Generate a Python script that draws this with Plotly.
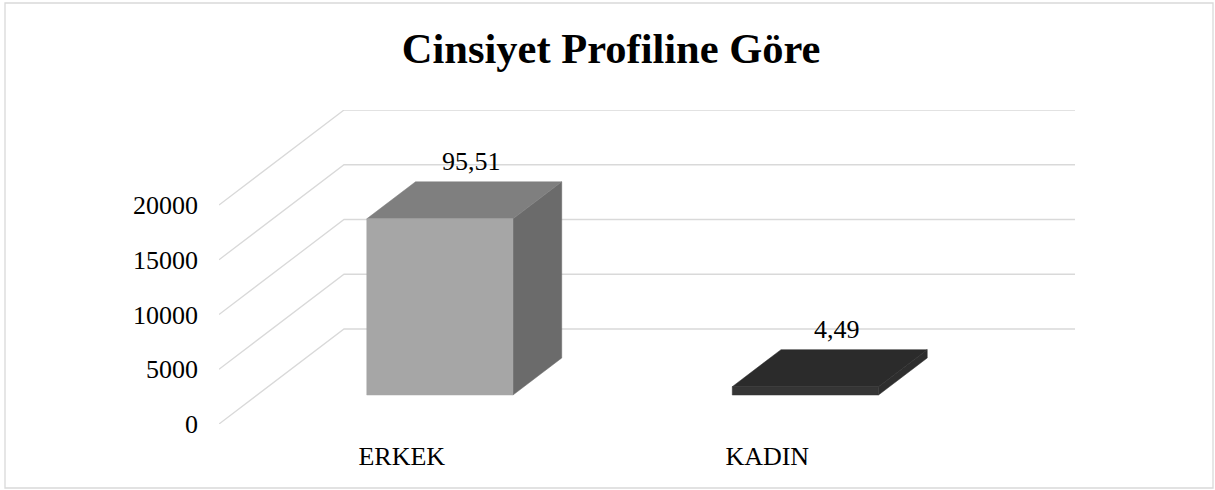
import plotly.graph_objects as go

# ---- data ----
categories = ["ERKEK", "KADIN"]
counts = [16090, 760]
pct_labels = ["95,51", "4,49"]
y_ticks = [0, 5000, 10000, 15000, 20000]
title_text = "Cinsiyet Profiline Göre"

# ---- styling / 3D projection parameters ----
FONT = "Liberation Serif"
front_colors = ["#a6a6a6", "#353535"]
top_colors = ["#7f7f7f", "#2b2b2b"]
side_colors = ["#6b6b6b", "#2e2e2e"]
GRID = "#d9d9d9"

KX = 0.342        # depth shift in category units (full depth)
DY = 8676.0       # depth shift in value units (full depth)
D0, D1 = 0.305, 0.695   # bar depth extent
HW = 0.2          # half bar width (category units)
YMAX = max(y_ticks)
YTOP = YMAX + DY
XL, XR = -0.5, len(categories) - 0.5

fig = go.Figure()

# side-wall diagonal gridlines and back-wall horizontal gridlines
for v in y_ticks:
    fig.add_trace(go.Scatter(
        x=[XL, XL + KX, XR + KX], y=[v, v + DY, v + DY],
        mode="lines", line=dict(color=GRID, width=1.3),
        hoverinfo="skip", showlegend=False))

# 3D bars
for i, (cat, v) in enumerate(zip(categories, counts)):
    c = i
    xa0 = c - HW + D0 * KX
    xb0 = c + HW + D0 * KX
    xa1 = c - HW + D1 * KX
    xb1 = c + HW + D1 * KX
    y0 = D0 * DY
    y1 = D1 * DY
    # side face
    fig.add_trace(go.Scatter(
        x=[xb0, xb1, xb1, xb0, xb0], y=[y0, y1, v + y1, v + y0, y0],
        fill="toself", fillcolor=side_colors[i], mode="lines",
        line=dict(color=side_colors[i], width=0.5),
        hoverinfo="skip", showlegend=False))
    # top face
    fig.add_trace(go.Scatter(
        x=[xa0, xb0, xb1, xa1, xa0], y=[v + y0, v + y0, v + y1, v + y1, v + y0],
        fill="toself", fillcolor=top_colors[i], mode="lines",
        line=dict(color=top_colors[i], width=0.5),
        hoverinfo="skip", showlegend=False))
    # front face
    fig.add_trace(go.Scatter(
        x=[xa0, xb0, xb0, xa0, xa0], y=[y0, y0, v + y0, v + y0, y0],
        fill="toself", fillcolor=front_colors[i], mode="lines",
        line=dict(color=front_colors[i], width=0.5),
        hoverinfo="skip", showlegend=False))
    # data label
    fig.add_annotation(
        x=c + 0.5 * KX, y=v + y1, text=pct_labels[i], showarrow=False,
        xshift=7, yshift=20, yanchor="middle",
        font=dict(family=FONT, size=26, color="#000000"))

# outer chart border
fig.add_shape(type="rect", xref="paper", yref="paper",
              x0=(5 - 219) / 856, x1=(1213 - 219) / 856,
              y0=-(488 - 424) / 314, y1=1 + (110 - 3) / 314,
              line=dict(color="#d9d9d9", width=1.3), fillcolor="rgba(0,0,0,0)",
              layer="below")

fig.update_layout(
    width=1215, height=490,
    margin=dict(l=219, r=140, t=110, b=66),
    paper_bgcolor="white", plot_bgcolor="white",
    title=dict(text="<b>" + title_text + "</b>", x=0.503, xanchor="center",
               y=1 - 48 / 490, yanchor="middle",
               font=dict(family=FONT, size=42.5, color="#000000")),
    xaxis=dict(range=[XL, XR + KX], tickvals=list(range(len(categories))),
               ticktext=categories, showgrid=False, zeroline=False,
               showline=False, ticks="", ticklabelstandoff=14,
               tickfont=dict(family=FONT, size=26, color="#000000"),
               fixedrange=True),
    yaxis=dict(range=[0, YTOP], tickvals=y_ticks,
               ticktext=[str(t) for t in y_ticks], showgrid=False,
               zeroline=False, showline=False, ticks="",
               ticklabelstandoff=20,
               tickfont=dict(family=FONT, size=26, color="#000000"),
               fixedrange=True),
    showlegend=False,
)

fig.write_html("out.html", config={"displayModeBar": False},
               post_script="document.body.style.margin='0px';document.body.style.overflow='hidden';")
